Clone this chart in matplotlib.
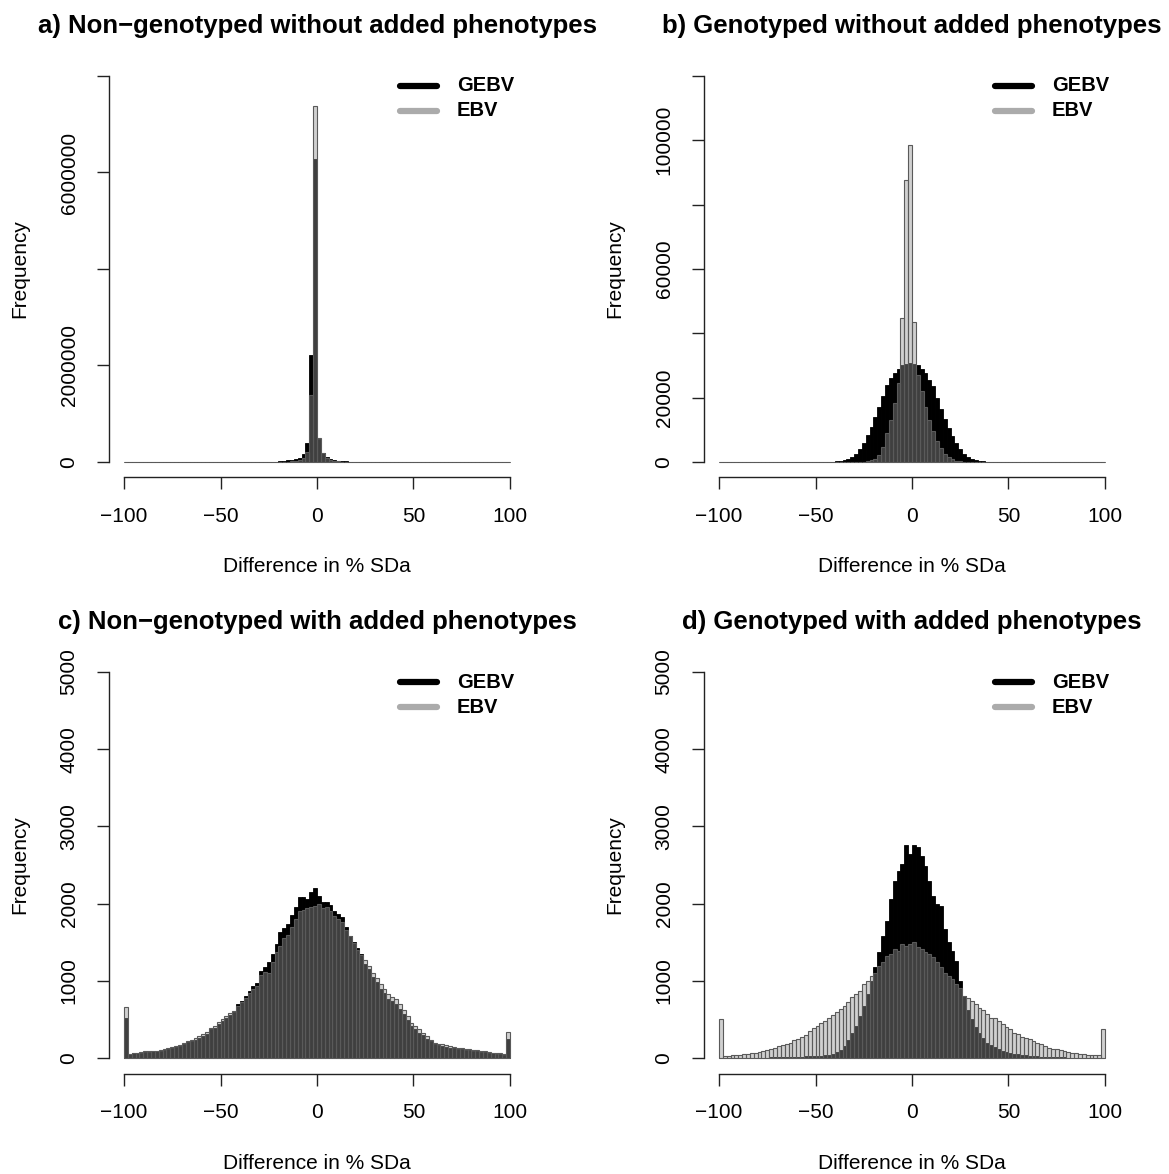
import numpy as np
import matplotlib
matplotlib.use('Agg')
import matplotlib.pyplot as plt

plt.rcParams['font.family'] = ['Liberation Sans', 'DejaVu Sans']

# --- data: histogram counts, 100 bins of width 2 from -100 to 100 ---
bin_edges = np.arange(-100, 101, 2)

a_gebv = [0, 0, 0, 0, 0, 0, 0, 0, 0, 0,
          0, 0, 0, 0, 0, 0, 0, 0, 0, 0,
          10, 15, 20, 30, 40, 55, 75, 100, 140, 200,
          300, 450, 700, 1000, 1500, 2200, 3200, 4500, 6500, 9000,
          15000, 22000, 32000, 45000, 58000, 77000, 165000, 400000, 2220000, 6280000,
          470000, 180000, 100000, 55000, 35000, 24000, 16000, 11000, 7500, 5200,
          3700, 2600, 1800, 1300, 900, 650, 450, 320, 220, 160,
          110, 80, 55, 40, 30, 20, 15, 10, 5, 0,
          0, 0, 0, 0, 0, 0, 0, 0, 0, 0,
          0, 0, 0, 0, 0, 0, 0, 0, 0, 0]
a_ebv = [0, 0, 0, 0, 0, 0, 0, 0, 0, 0,
         0, 0, 0, 0, 0, 0, 0, 0, 0, 0,
         5, 8, 10, 15, 20, 30, 40, 55, 75, 100,
         140, 200, 280, 400, 550, 750, 1000, 1400, 1900, 2500,
         1800, 3000, 5500, 10000, 20000, 40000, 80000, 210000, 1390000, 7380000,
         490000, 180000, 90000, 45000, 25000, 14000, 8000, 5000, 3000, 2000,
         1400, 1000, 700, 500, 350, 250, 180, 130, 90, 60,
         40, 30, 20, 15, 10, 5, 0, 0, 0, 0,
         0, 0, 0, 0, 0, 0, 0, 0, 0, 0,
         0, 0, 0, 0, 0, 0, 0, 0, 0, 0]

b_gebv = [0, 0, 0, 0, 0, 0, 0, 0, 0, 0,
          1, 1, 1, 2, 2, 3, 3, 4, 5, 6,
          8, 10, 12, 15, 19, 24, 30, 45, 70, 110,
          180, 300, 500, 900, 1500, 2500, 4000, 6000, 8500, 11000,
          14000, 17000, 20500, 24000, 26000, 27500, 29000, 30000, 30500, 30700,
          30500, 30000, 29000, 27500, 25500, 23500, 20000, 16500, 13500, 10500,
          8000, 5800, 4000, 2500, 1500, 900, 520, 300, 180, 110,
          70, 45, 30, 22, 16, 12, 9, 7, 5, 4,
          3, 3, 2, 2, 1, 1, 1, 1, 0, 0,
          0, 0, 0, 0, 0, 0, 0, 0, 0, 0]
b_ebv = [0, 0, 0, 0, 0, 0, 0, 0, 0, 0,
         0, 0, 0, 0, 0, 0, 0, 0, 0, 0,
         2, 3, 4, 5, 6, 8, 10, 14, 20, 30,
         8, 12, 18, 27, 40, 60, 90, 140, 250, 500,
         1000, 2180, 4760, 9000, 13060, 18350, 24500, 44800, 87700, 98600,
         43500, 27000, 22000, 17000, 13000, 9500, 6500, 4200, 2600, 1500,
         800, 450, 250, 140, 80, 45, 25, 15, 8, 5,
         3, 2, 1, 1, 0, 0, 0, 0, 0, 0,
         0, 0, 0, 0, 0, 0, 0, 0, 0, 0,
         0, 0, 0, 0, 0, 0, 0, 0, 0, 0]

c_gebv = [524, 52, 60, 64, 69, 78, 80, 85, 87, 96,
          104, 115, 130, 140, 160, 185, 205, 218, 240, 265,
          285, 318, 370, 395, 445, 478, 515, 560, 595, 697,
          740, 800, 870, 930, 978, 1130, 1180, 1238, 1350, 1476,
          1628, 1690, 1736, 1850, 1952, 2082, 2090, 2060, 2150, 2203,
          2100, 2017, 2017, 1980, 1909, 1870, 1823, 1700, 1584, 1500,
          1420, 1346, 1220, 1150, 1050, 985, 900, 845, 770, 735,
          700, 640, 565, 490, 415, 375, 330, 295, 250, 215,
          178, 165, 158, 147, 133, 127, 120, 111, 105, 100,
          93, 87, 81, 76, 71, 64, 59, 53, 45, 242]
c_ebv = [662, 56, 65, 70, 75, 85, 88, 92, 95, 105,
         113, 125, 143, 150, 175, 200, 220, 235, 260, 285,
         307, 340, 394, 420, 470, 502, 540, 580, 610, 680,
         730, 780, 840, 890, 935, 1070, 1110, 1108, 1250, 1370,
         1455, 1560, 1600, 1700, 1800, 1909, 1920, 1950, 1960, 1974,
         1990, 1940, 1960, 1900, 1840, 1800, 1760, 1660, 1584, 1490,
         1400, 1330, 1270, 1195, 1100, 1040, 957, 900, 827, 790,
         762, 700, 620, 540, 460, 416, 370, 330, 280, 240,
         199, 185, 177, 165, 150, 143, 135, 125, 118, 113,
         105, 98, 91, 85, 80, 72, 66, 60, 50, 342]

d_gebv = [3, 2, 2, 3, 3, 3, 4, 4, 5, 5,
          6, 6, 7, 8, 9, 10, 11, 12, 14, 15,
          17, 19, 21, 23, 25, 28, 32, 36, 40, 55,
          75, 110, 156, 230, 320, 420, 540, 680, 827, 1000,
          1173, 1380, 1584, 1779, 2060, 2299, 2420, 2515, 2762, 2645,
          2762, 2732, 2620, 2493, 2299, 2104, 2000, 1974, 1671, 1500,
          1390, 1260, 1000, 800, 620, 500, 400, 320, 264, 200,
          170, 140, 115, 95, 80, 69, 58, 48, 40, 35,
          30, 26, 22, 19, 16, 14, 12, 10, 9, 8,
          7, 6, 5, 5, 4, 4, 3, 3, 2, 2]
d_ebv = [511, 30, 22, 35, 40, 45, 52, 58, 62, 70,
         82, 95, 105, 115, 135, 150, 165, 185, 200, 235,
         245, 275, 300, 355, 385, 420, 450, 480, 520, 560,
         600, 640, 680, 720, 790, 830, 870, 960, 1000, 1060,
         1108, 1195, 1238, 1325, 1346, 1411, 1390, 1476, 1455, 1476,
         1498, 1433, 1411, 1368, 1346, 1303, 1238, 1173, 1108, 1065,
         1022, 957, 913, 805, 784, 740, 697, 654, 619, 567,
         524, 524, 480, 437, 403, 372, 329, 307, 273, 264,
         242, 221, 199, 186, 156, 134, 121, 113, 104, 91,
         82, 69, 69, 56, 48, 39, 39, 35, 35, 381]

titles = ['a) Non\u2212genotyped without added phenotypes',
          'b) Genotyped without added phenotypes',
          'c) Non\u2212genotyped with added phenotypes',
          'd) Genotyped with added phenotypes']
y_ticks = [[0, 2000000, 4000000, 6000000, 8000000],
           [0, 20000, 40000, 60000, 80000, 100000, 120000],
           [0, 1000, 2000, 3000, 4000, 5000],
           [0, 1000, 2000, 3000, 4000, 5000]]
# R drops labels that would overlap, so some ticks have no label
y_labels = [['0', '2000000', '', '6000000', ''],
            ['0', '20000', '', '60000', '', '100000', ''],
            ['0', '1000', '2000', '3000', '4000', '5000'],
            ['0', '1000', '2000', '3000', '4000', '5000']]
x_ticks = [-100, -50, 0, 50, 100]
x_labels = ['\u2212100', '\u221250', '0', '50', '100']
series = [(a_gebv, a_ebv), (b_gebv, b_ebv), (c_gebv, c_ebv), (d_gebv, d_ebv)]

W, H = 1169, 1174
fig = plt.figure(figsize=(W / 100, H / 100), dpi=100)

# plot regions in pixels (left, top), all the same size
regions = [(108.6, 60.5), (703.6, 60.5), (108.6, 656.6), (703.6, 656.6)]
pw, ph = 416.8, 416.9

ebv_fill = (0.58, 0.58, 0.58, 0.43)

for i in range(4):
    left, top = regions[i]
    ax = fig.add_axes([left / W, 1 - (top + ph) / H, pw / W, ph / H])
    gebv, ebv = series[i]
    ax.bar(bin_edges[:-1], gebv, width=2, align='edge', color='black',
           edgecolor='black', linewidth=0.6)
    ax.bar(bin_edges[:-1], ebv, width=2, align='edge', facecolor=ebv_fill,
           edgecolor='#5a5a5a', linewidth=0.8)

    ymax = y_ticks[i][-1]
    ax.set_xlim(-108, 108)
    ax.set_ylim(-0.04 * ymax, 1.04 * ymax)

    for s in ['top', 'right']:
        ax.spines[s].set_visible(False)
    ax.spines['left'].set_bounds(0, ymax)
    ax.spines['bottom'].set_bounds(-100, 100)
    for s in ['left', 'bottom']:
        ax.spines[s].set_linewidth(1.0)
        ax.spines[s].set_color('#222222')

    ax.set_xticks(x_ticks)
    ax.set_xticklabels(x_labels)
    ax.set_yticks(y_ticks[i])
    ax.set_yticklabels(y_labels[i], rotation=90, va='center')
    ax.tick_params(length=8.6, width=1.0, color='#222222', labelsize=15, pad=13)

    ax.set_xlabel('Difference in % SDa', fontsize=15)
    ax.xaxis.set_label_coords(0.5, -0.192)
    ax.set_ylabel('Frequency', fontsize=15)
    ax.yaxis.set_label_coords(-0.19, 0.5)
    ax.set_title(titles[i], fontsize=18.5, fontweight='bold', pad=20)

    # legend drawn by hand, like R legend with bty="n"
    ax.plot([0.700, 0.789], [0.939, 0.939], transform=ax.transAxes,
            color='black', lw=4.5, solid_capstyle='round', clip_on=False)
    ax.plot([0.700, 0.789], [0.879, 0.879], transform=ax.transAxes,
            color='#ababab', lw=4.5, solid_capstyle='round', clip_on=False)
    ax.text(0.836, 0.939, 'GEBV', transform=ax.transAxes, fontsize=14.5,
            fontweight='bold', va='center')
    ax.text(0.836, 0.879, 'EBV', transform=ax.transAxes, fontsize=14.5,
            fontweight='bold', va='center')

fig.savefig('out.png', dpi=100)
